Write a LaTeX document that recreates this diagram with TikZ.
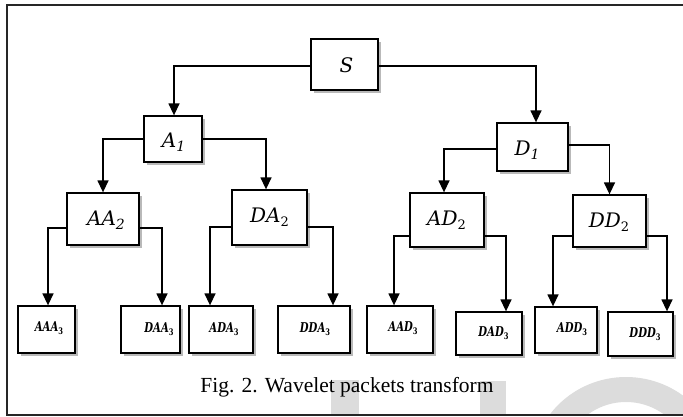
\documentclass[tikz,border=0pt]{standalone}
\usepackage[no-math]{fontspec}
\usetikzlibrary{arrows.meta,shadows}
\newfontfamily\capfont{Liberation Serif}
\newfontfamily\lblfont{DejaVu Serif}
\newfontfamily\leaffont[FakeStretch=0.75]{DejaVu Serif}
\definecolor{wmark}{HTML}{DCDCDC}

% italic name with a lowered italic index
\newcommand{\nmi}[2]{{\itshape #1\raisebox{-3.5pt}{\fontsize{14}{14}\selectfont #2}}}
% italic name with a lowered upright index
\newcommand{\nmu}[2]{{\itshape #1}\raisebox{-4pt}{\fontsize{13}{13}\selectfont #2}}
% bold italic name with a small lowered upright index
\newcommand{\lf}[2]{{\bfseries\itshape #1}\raisebox{-3pt}{\fontsize{9}{9}\selectfont\bfseries #2}}

\tikzset{
  box/.style={draw=black, line width=1.3pt, fill=white, inner sep=0pt,
    drop shadow={shadow xshift=3pt, shadow yshift=-3pt, fill=black!55}},
  link/.style={line width=1.4pt, -{Triangle[width=11pt,length=12pt]}},
  lbl/.style={font=\lblfont\fontsize{20}{20}\selectfont, inner sep=0pt},
  leaf/.style={font=\leaffont\fontsize{13.5}{13.5}\selectfont, inner sep=0pt},
  frame/.style={draw=black!85, line width=2pt},
}

\begin{document}
\begin{tikzpicture}[x=1pt, y=-1pt]
\useasboundingbox (0,0) rectangle (683,417);

% faint watermark shapes behind the caption
\begin{scope}
  \clip (0,0) rectangle (683,415);
  \fill[wmark] (331,380) rectangle (359,415);
  \fill[wmark] (480,381) rectangle (506,415);
  \fill[wmark, even odd rule] (626,470) ellipse [x radius=95, y radius=93]
                               (626,470) ellipse [x radius=66, y radius=68];
\end{scope}

% outer frame (open on the right)
\draw[frame] (700,5) -- (6.5,5) -- (6.5,415) -- (700,415);

% level 0
\node[box, minimum width=67pt, minimum height=51pt] (S) at (344.5,64.5) {};
% level 1
\node[box, minimum width=58pt, minimum height=46pt] (A1) at (173,139) {};
\node[box, minimum width=71pt, minimum height=48pt] (D1) at (532.5,147) {};
% level 2
\node[box, minimum width=72pt, minimum height=52pt] (AA2) at (103,219) {};
\node[box, minimum width=75pt, minimum height=55pt] (DA2) at (269.5,217.5) {};
\node[box, minimum width=74pt, minimum height=54pt] (AD2) at (447,220) {};
\node[box, minimum width=73pt, minimum height=52pt] (DD2) at (609.5,221) {};
% level 3
\node[box, minimum width=57pt, minimum height=47pt] (AAA3) at (46.5,329.5) {};
\node[box, minimum width=59pt, minimum height=47pt] (DAA3) at (150.5,329.5) {};
\node[box, minimum width=64pt, minimum height=47pt] (ADA3) at (221,329.5) {};
\node[box, minimum width=72pt, minimum height=47pt] (DDA3) at (314,329.5) {};
\node[box, minimum width=66pt, minimum height=47pt] (AAD3) at (400,329.5) {};
\node[box, minimum width=66pt, minimum height=43pt] (DAD3) at (489,333.5) {};
\node[box, minimum width=62pt, minimum height=46pt] (ADD3) at (566,330) {};
\node[box, minimum width=65pt, minimum height=44pt] (DDD3) at (640.5,334) {};

% labels
\node[lbl] (tS)   at (346.5,65.5) {\itshape S};
\node[lbl] (tA1)  at (173.5,142)  {\nmi{A}{1}};
\node[lbl] (tD1)  at (527,150)    {\nmi{D}{1}};
\node[lbl] (tAA2) at (106,220)    {\nmi{AA}{2}};
\node[lbl] (tDA2) at (269.5,217)  {\nmu{DA}{2}};
\node[lbl] (tAD2) at (446.5,220)  {\nmu{AD}{2}};
\node[lbl] (tDD2) at (609,222)    {\nmu{DD}{2}};

\node[leaf] (tAAA3) at (49,328)    {\lf{AAA}{3}};
\node[leaf] (tDAA3) at (159,329)   {\lf{DAA}{3}};
\node[leaf] (tADA3) at (224,329)   {\lf{ADA}{3}};
\node[leaf] (tDDA3) at (315,329)   {\lf{DDA}{3}};
\node[leaf] (tAAD3) at (403,328)   {\lf{AAD}{3}};
\node[leaf] (tDAD3) at (493.5,333) {\lf{DAD}{3}};
\node[leaf] (tADD3) at (572,329)   {\lf{ADD}{3}};
\node[leaf] (tDDD3) at (645,334)   {\lf{DDD}{3}};

% connectors
\draw[link] ([yshift=-1.5pt]S.west) -| ([xshift=1pt]A1.north);
\draw[link] ([yshift=-1.5pt]S.east) -| ([xshift=3.5pt]D1.north);
\draw[link] (A1.west) -| (AA2.north);
\draw[link] (A1.east) -| ([xshift=-3.5pt]DA2.north);
\draw[link] ([yshift=-2pt]D1.west) -| ([xshift=-3pt]AD2.north);
\draw[link] ([yshift=2pt]D1.east) -| (DD2.north);

\draw[link] ([yshift=-9pt]AA2.west) -| ([xshift=1.5pt]AAA3.north);
\draw[link] ([yshift=-9pt]AA2.east) -| ([xshift=11.5pt]DAA3.north);
\draw[link] ([yshift=-9.5pt]DA2.west) -| ([xshift=-11pt]ADA3.north);
\draw[link] ([yshift=-9.5pt]DA2.east) -| ([xshift=19pt]DDA3.north);
\draw[link] ([yshift=-16pt]AD2.west) -| ([xshift=-6pt]AAD3.north);
\draw[link] ([yshift=-16pt]AD2.east) -| ([xshift=17pt]DAD3.north);
\draw[link] ([yshift=-15pt]DD2.west) -| ([xshift=-13pt]ADD3.north);
\draw[link] ([yshift=-15pt]DD2.east) -| ([xshift=26.5pt]DDD3.north);

% caption
\node[anchor=base, inner sep=0pt, font=\capfont\fontsize{21.5}{21.5}\selectfont]
  (cap) at (347,392) {Fig. 2. Wavelet packets transform};
\end{tikzpicture}
\end{document}
